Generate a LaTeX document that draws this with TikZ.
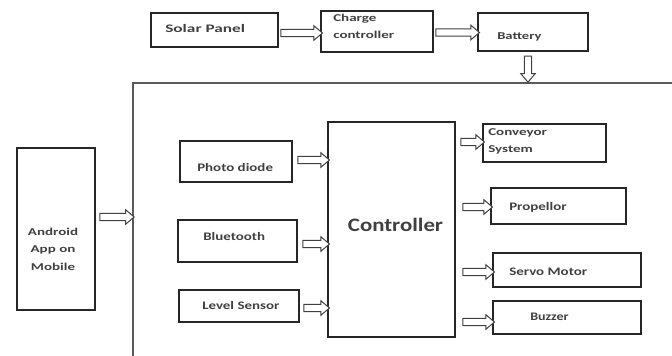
\documentclass[tikz,border=0pt]{standalone}
\usepackage{fontspec}
\setmainfont{Carlito}
\usetikzlibrary{shapes.arrows,calc}
\begin{document}
\begin{tikzpicture}[x=1pt,y=-1pt,
  box/.style={draw=black!85,line width=1.4pt,inner sep=0pt},
  txt/.style={text=black!75,inner sep=0pt,align=left,anchor=west},
  lbl/.style={txt,font=\fontsize{11.5}{17}\selectfont\bfseries,xscale=1.3},
  sml/.style={txt,font=\fontsize{10.5}{17}\selectfont\bfseries,xscale=1.43},
  big label/.style={txt,anchor=center,font=\fontsize{19}{20}\selectfont\bfseries,xscale=1.2},
  fatarrow/.style={single arrow,draw=black!75,line width=1pt,fill=white,inner xsep=0pt,inner ysep=3.2pt,
     single arrow head extend=3.5pt,single arrow head indent=0pt,single arrow tip angle=80,text width=0pt},
  fat/.style={to path={let \p1=(\tikztostart),\p2=(\tikztotarget),
     \n1={veclen(\x2-\x1,\y2-\y1)},\n2={atan2(\y2-\y1,\x2-\x1)} in
     node[fatarrow,minimum height=\n1,rotate=\n2] at ($(\p1)!.5!(\p2)$) {}}}]
\useasboundingbox (0,0) rectangle (672,356);
\clip (0,0) rectangle (672,356);
\fill[white] (0,0) rectangle (672,356);
% top chain
\node[box,minimum width=127pt,minimum height=34pt] (solar) at (214.5,30) {};
\node[txt,font=\fontsize{11.5}{17}\selectfont\bfseries,xscale=1.5] (solarT) at (165,29) {Solar Panel};
\node[box,minimum width=112pt,minimum height=41pt] (charge) at (377,31.5) {};
\node[sml,anchor=north west] (chargeT) at (333,14) {Charge\\controller};
\node[box,minimum width=110pt,minimum height=38pt] (battery) at (533,32) {};
\node[txt,font=\fontsize{10.5}{17}\selectfont\bfseries,xscale=1.39] (batteryT) at (497,37) {Battery};
% big enclosing box
\node[draw=black!65,line width=1.6pt,minimum width=600pt,minimum height=320pt,anchor=north west,inner sep=0pt] (big) at (132,82) {};
% android
\node[box,minimum width=78pt,minimum height=162pt] (android) at (56,229) {};
\node[sml,anchor=center,align=center,font=\fontsize{10.5}{17.5}\selectfont\bfseries] (androidT) at (53,249) {Android\\App on\\Mobile};
% sensors
\node[box,minimum width=112pt,minimum height=41pt] (photo) at (236,161.5) {};
\node[lbl] (photoT) at (197,168) {Photo diode};
\node[box,minimum width=119pt,minimum height=42pt] (bt) at (237.5,241) {};
\node[lbl] (btT) at (203,237) {Bluetooth};
\node[box,minimum width=120pt,minimum height=32pt] (level) at (239,306) {};
\node[lbl] (levelT) at (202,306) {Level Sensor};
% controller
\node[box,minimum width=127pt,minimum height=215pt] (ctrl) at (391.5,229.5) {};
\node[big label] (ctrlT) at (395.5,225) {Controller};
% actuators
\node[box,minimum width=123pt,minimum height=38pt] (conv) at (544.5,143) {};
\node[sml,anchor=north west] (convT) at (488,128) {Conveyor\\System};
\node[box,minimum width=135pt,minimum height=36pt] (prop) at (558.5,206) {};
\node[lbl] (propT) at (509,207) {Propellor};
\node[box,minimum width=148pt,minimum height=34pt] (servo) at (567,270) {};
\node[lbl] (servoT) at (509,272) {Servo Motor};
\node[box,minimum width=148pt,minimum height=33pt] (buzzer) at (567,317.5) {};
\node[txt,font=\fontsize{11.5}{17}\selectfont\bfseries,xscale=1.22] (buzzerT) at (530,317) {Buzzer};
% arrow end points (yshift is in page direction: positive = up)
\coordinate (solarA) at ([yshift=-3pt]solar.east);
\coordinate (chargeA) at ([yshift=-1pt]charge.east);
\coordinate (batdownA) at (528,54);
\coordinate (batdownB) at (528,80);
\coordinate (andA) at ([xshift=2pt,yshift=12pt]android.east);
\coordinate (photoA) at ([xshift=3pt,yshift=1.5pt]photo.east);
\coordinate (btA) at ([xshift=3pt,yshift=-3pt]bt.east);
\coordinate (levelA) at ([xshift=2pt,yshift=-2pt]level.east);
\coordinate (convB) at ([yshift=1pt]conv.west);
\coordinate (propB) at ([yshift=-1pt]prop.west);
\coordinate (servoB) at ([yshift=-2pt]servo.west);
\coordinate (buzzB) at ([yshift=-4.5pt]buzzer.west);
% arrows
\draw (solarA) to[fat] (charge.west |- solarA);
\draw (chargeA) to[fat] (battery.west |- chargeA);
\draw (batdownA) to[fat] (batdownB);
\draw (andA) to[fat] (big.west |- andA);
\draw (photoA) to[fat] (ctrl.west |- photoA);
\draw (btA) to[fat] (ctrl.west |- btA);
\draw (levelA) to[fat] (ctrl.west |- levelA);
\draw ([xshift=3pt]ctrl.east |- convB) to[fat] (convB);
\draw ([xshift=5pt]ctrl.east |- propB) to[fat] (propB);
\draw ([xshift=5pt]ctrl.east |- servoB) to[fat] (servoB);
\draw ([xshift=5pt]ctrl.east |- buzzB) to[fat] (buzzB);
\end{tikzpicture}
\end{document}
